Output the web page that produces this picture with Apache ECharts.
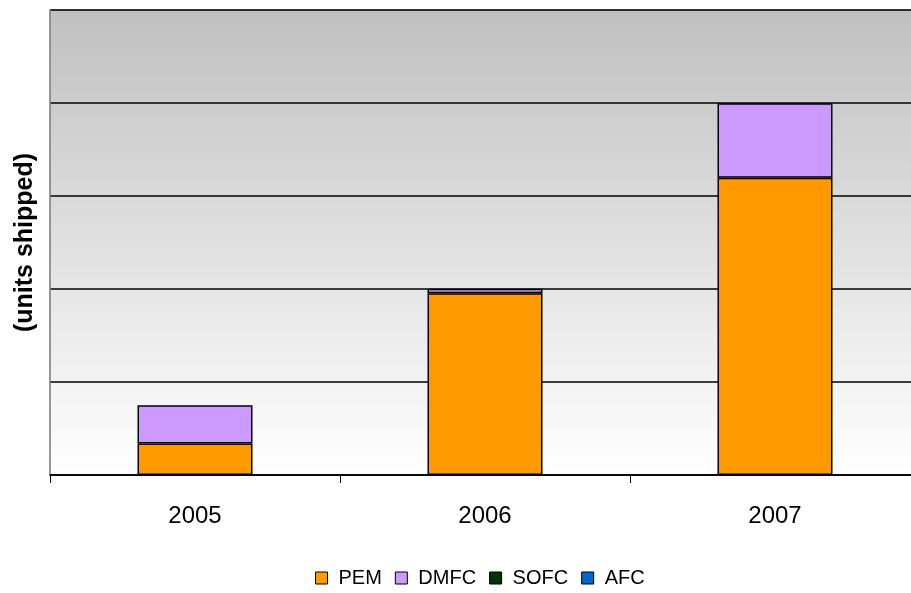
<!DOCTYPE html>
<html><head><meta charset="utf-8">
<script src="https://cdn.jsdelivr.net/npm/echarts@6/dist/echarts.min.js"></script>
<style>html,body{margin:0;padding:0;background:#fff;overflow:hidden}#c{width:920px;height:593px}</style>
</head><body><div id="c"></div>
<script>
const categories = ['2005', '2006', '2007'];
const pem = [0.34, 1.954, 3.197];
const dmfc = [0.41, 0.05, 0.80];
const sofc = [0, 0, 0];
const afc = [0, 0, 0];

const chart = echarts.init(document.getElementById('c'));
const barStyle = (c) => ({ color: c, borderColor: '#000', borderWidth: 1.5 });
chart.setOption({
  animation: false,
  grid: {
    left: 50, right: 0, top: 10, height: 465,
    show: true,
    borderColor: '#888', borderWidth: 1,
    backgroundColor: new echarts.graphic.LinearGradient(0, 0, 0, 1, [
      { offset: 0, color: '#C0C0C0' }, { offset: 1, color: '#FFFFFF' }
    ])
  },
  legend: {
    top: 568, left: 315, padding: 0,
    icon: 'rect',
    itemWidth: 12, itemHeight: 12, itemGap: 13,
    textStyle: { fontFamily: 'Liberation Sans', fontSize: 20, color: '#000', padding: [0, 0, 0, 6] },
    data: [
      { name: 'PEM', itemStyle: { color: '#FF9900', borderColor: '#000', borderWidth: 1 } },
      { name: 'DMFC', itemStyle: { color: '#CC99FF', borderColor: '#000', borderWidth: 1 } },
      { name: 'SOFC', itemStyle: { color: '#003300', borderColor: '#000', borderWidth: 1 } },
      { name: 'AFC', itemStyle: { color: '#0066CC', borderColor: '#000', borderWidth: 1 } }
    ]
  },
  xAxis: {
    type: 'category', data: categories,
    axisLine: { lineStyle: { color: '#000', width: 1.5 } },
    axisTick: { show: true, length: 8, lineStyle: { color: '#000' } },
    axisLabel: { fontFamily: 'Liberation Sans', fontSize: 24, color: '#000', margin: 29 }
  },
  yAxis: {
    type: 'value', min: 0, max: 5, interval: 1,
    name: '(units shipped)', nameLocation: 'middle', nameGap: 12, nameRotate: 90,
    nameTextStyle: { fontFamily: 'Liberation Sans', fontSize: 25, fontWeight: 'bold', color: '#000' },
    axisLine: { show: true, lineStyle: { color: '#888', width: 1.5 } },
    axisTick: { show: false },
    axisLabel: { show: false },
    splitLine: { lineStyle: { color: '#000', width: 1.5 } }
  },
  series: [
    { name: 'PEM', type: 'bar', stack: 's', data: pem, barWidth: 115, itemStyle: barStyle('#FF9900') },
    { name: 'DMFC', type: 'bar', stack: 's', data: dmfc, barWidth: 115, itemStyle: barStyle('#CC99FF') },
    { name: 'SOFC', type: 'bar', stack: 's', data: sofc, barWidth: 115, itemStyle: { color: '#003300' } },
    { name: 'AFC', type: 'bar', stack: 's', data: afc, barWidth: 115, itemStyle: { color: '#0066CC' } }
  ]
});
</script></body></html>
